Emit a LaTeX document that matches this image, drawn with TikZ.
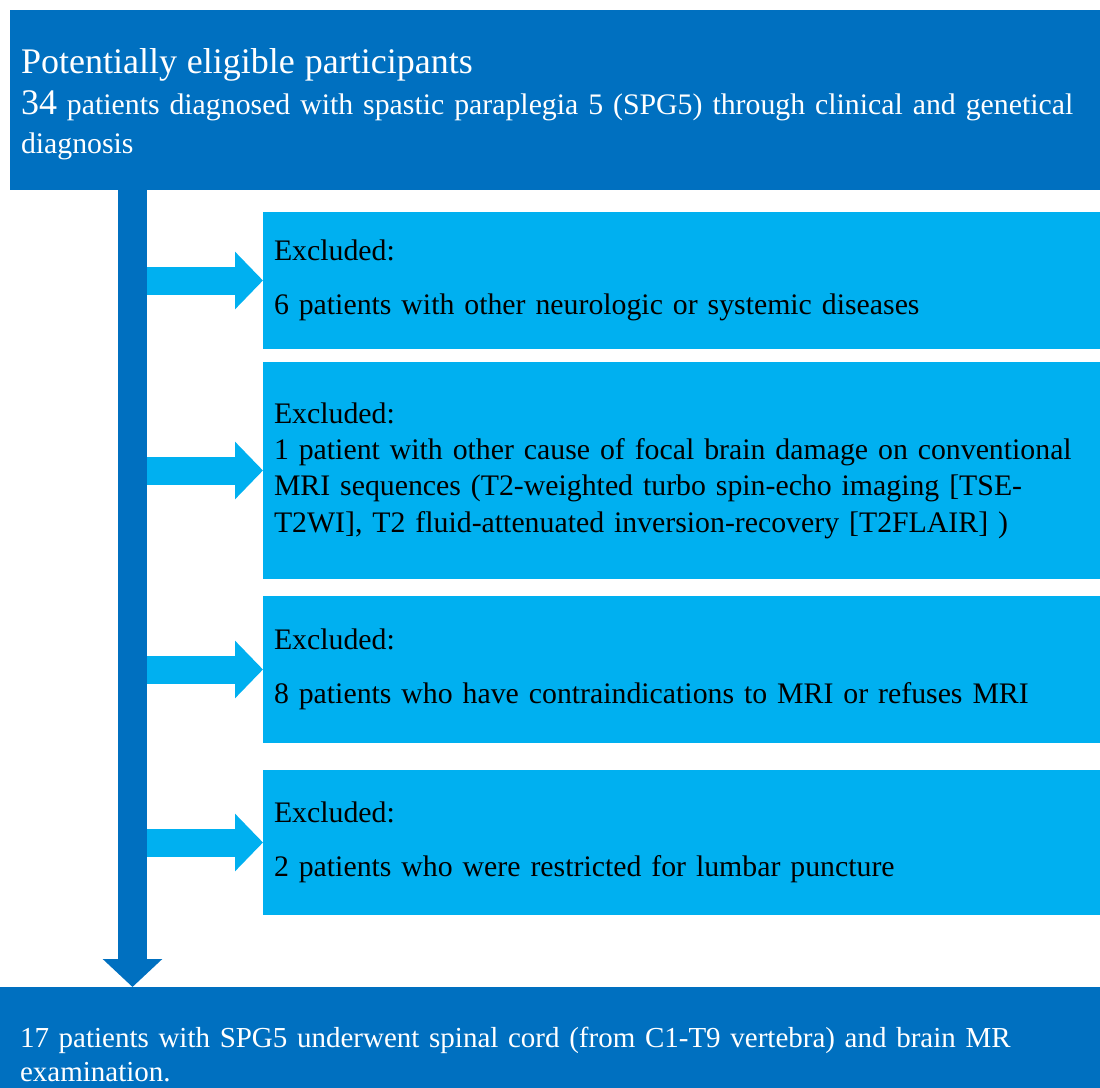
\documentclass[tikz,border=0pt]{standalone}
\usepackage{fontspec}
\setmainfont{Liberation Serif}
\usetikzlibrary{positioning,arrows.meta}
\definecolor{darkblue}{HTML}{0070C0}
\definecolor{lightblue}{HTML}{00B0F0}
\hyphenpenalty=10000
\exhyphenpenalty=10000

\begin{document}
\begin{tikzpicture}[x=0.5pt, y=-0.5pt, outer sep=0pt,
    mainbox/.style={fill=darkblue, text=white, anchor=north west,
      inner ysep=0pt, align=left},
    exclbox/.style={fill=lightblue, text=black, minimum width=418.5pt,
      text width=407.5pt, inner xsep=5.5pt, inner ysep=0pt, align=left,
      font=\fontsize{14.9}{18.2}\selectfont},
    trunk/.style={draw=darkblue, line width=14.5pt,
      -{Triangle[length=14pt,width=29pt]}},
    branch/.style={draw=lightblue, line width=14pt,
      -{Triangle[length=14pt,width=28pt]}}]
  \useasboundingbox (0,0) rectangle (1100,1088);
  \node[mainbox, minimum width=545pt, text width=534pt, inner xsep=5.5pt,
    minimum height=90pt, font=\fontsize{14.9}{19.5}\selectfont] (elig) at (10,10)
    {{\fontsize{18}{19.5}\selectfont\rule{0pt}{16.5pt}Potentially eligible participants}\\[1pt]%
     {\fontsize{18}{19.5}\selectfont 34} patients diagnosed with spastic paraplegia 5 (SPG5) through clinical and genetical\\
     diagnosis};%
  \node[exclbox, anchor=north west, minimum height=68.5pt] (excl1) at (263,212)
    {Excluded:\\[9pt]6 patients with other neurologic or systemic diseases};%
  \node[exclbox, minimum height=108.5pt] (excl2) [below=6.5pt of excl1]
    {Excluded:\\
     1 patient with other cause of focal brain damage on conventional\\
     MRI sequences (T2-weighted turbo spin-echo imaging [TSE-\\
     T2WI], T2 fluid-attenuated inversion-recovery [T2FLAIR] )};%
  \node[exclbox, minimum height=73.5pt] (excl3) [below=8.5pt of excl2]
    {Excluded:\\[9pt]8 patients who have contraindications to MRI or refuses MRI};%
  \node[exclbox, minimum height=72.5pt] (excl4) [below=13.5pt of excl3]
    {Excluded:\\[9pt]2 patients who were restricted for lumbar puncture};%
  \node[mainbox, minimum width=550pt, text width=530pt, inner xsep=10pt,
    inner ysep=20pt, font=\fontsize{14.5}{17}\selectfont] (exam) at (0,987)
    {17 patients with SPG5 underwent spinal cord (from C1-T9 vertebra) and brain MR\\
     examination.};%
  % arrows
  \coordinate (spine) at (132.5,0);
  \foreach \b in {excl1,excl2,excl3,excl4}
    \draw[branch] (spine |- \b.west) -- (\b.west);
  \draw[trunk] (spine |- elig.south) -- (spine |- exam.north);
\end{tikzpicture}
\end{document}
